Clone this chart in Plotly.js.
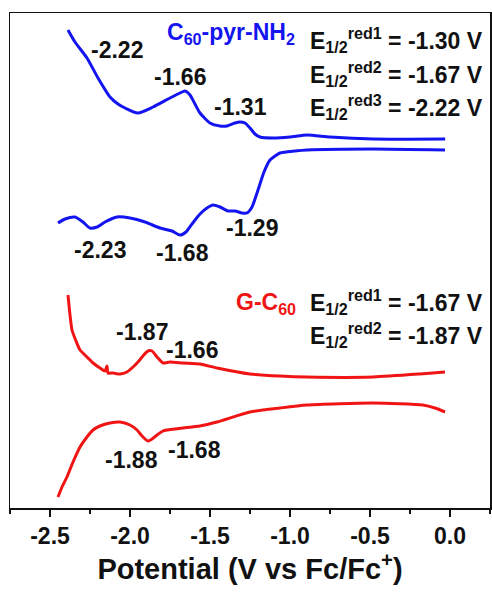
<!DOCTYPE html>
<html><head><meta charset="utf-8">
<script src="https://cdn.plot.ly/plotly-3.0.1.min.js"></script>
<style>html,body{margin:0;padding:0;background:#fff}#chart{width:492px;height:592px}</style>
</head><body><div id="chart"></div>
<script>
// C60-pyr-NH2 forward (upper) scan
const bluePotA = [-2.3875,-2.344,-2.269,-2.2,-2.125,-2.075,-2.031,-1.95,-1.856,-1.75,-1.6875,-1.656,-1.625,-1.594,-1.5625,-1.5,-1.4375,-1.394,-1.344,-1.3125,-1.281,-1.25,-1.219,-1.1875,-1.106,-1.0,-0.894,-0.75,-0.48,-0.03];
const blueCurA = [478,466,450,430,411,404,400,395,401,410,415,417,413,404,395,385,382,382,385,386,385,380,374,371,370,371,373,371,369,369];
// C60-pyr-NH2 reverse (lower) scan
const bluePotB = [-2.45,-2.406,-2.344,-2.294,-2.25,-2.206,-2.156,-2.081,-2.0,-1.906,-1.8125,-1.7375,-1.6875,-1.65,-1.6125,-1.5625,-1.519,-1.481,-1.4375,-1.3875,-1.344,-1.3,-1.269,-1.2375,-1.2,-1.1625,-1.125,-1.0625,-0.969,-0.894,-0.481,-0.031];
const blueCurB = [285,289,291,286,280,281,286,291,290,286,280,277,273,276,284,294,300,303,301,297,297,295,295,301,318,336,348,355,357,358,359,358];
// G-C60 upper scan
const redPotA = [-2.3875,-2.375,-2.3625,-2.3375,-2.3125,-2.269,-2.231,-2.1875,-2.156,-2.144,-2.1375,-2.106,-2.0625,-2.019,-1.981,-1.95,-1.919,-1.8875,-1.8625,-1.831,-1.794,-1.75,-1.669,-1.5625,-1.456,-1.25,-1.0625,-0.894,-0.481,-0.1875,-0.031];
const redCurA = [213,193,178,167,158,151,145,140,137,142,135,135,134,136,141,146,152,157,157,151,145,146,145,144,140,134,132,131,131,134,136];
// G-C60 lower scan
const redPotB = [-2.45,-2.425,-2.394,-2.356,-2.3125,-2.269,-2.231,-2.1875,-2.125,-2.0625,-2.0,-1.956,-1.925,-1.8875,-1.8625,-1.831,-1.794,-1.769,-1.719,-1.669,-1.5625,-1.456,-1.25,-1.0625,-0.894,-0.481,-0.169,-0.094,-0.031];
const redCurB = [11,21,31,46,61,71,78,82,85,86,83,78,72,67,69,73,77,78,79,80,82,86,96,100,103,105,103,100,96];

const tickVals = [-2.5,-2.0,-1.5,-1.0,-0.5,0.0];
const tickText = ['-2.5','-2.0','-1.5','-1.0','-0.5','0.0'];

const peakLabelsBlue = ['-2.22','-1.66','-1.31','-2.23','-1.68','-1.29'];
const peakXBlue = [-2.08,-1.69,-1.31,-2.19,-1.67,-1.24];
const peakYBlue = [458,431,401,258,255,280];
const peakLabelsRed = ['-1.87','-1.66','-1.88','-1.68'];
const peakXRed = [-1.925,-1.61,-1.99,-1.60];
const peakYRed = [176,158,48,58];

const blueName = 'C<sub>60</sub>-pyr-NH<sub>2</sub>';
const redName = 'G-C<sub>60</sub>';
const blueE = ['E<sub>1/2</sub><sup>red1</sup> = -1.30 V','E<sub>1/2</sub><sup>red2</sup> = -1.67 V','E<sub>1/2</sub><sup>red3</sup> = -2.22 V'];
const redE = ['E<sub>1/2</sub><sup>red1</sup> = -1.67 V','E<sub>1/2</sub><sup>red2</sup> = -1.87 V'];

const BLUE = '#1414f0', RED = '#f01414';
const FONT = 'Liberation Sans, Arial, sans-serif';

function line(x,y,c){return {x:x,y:y,type:'scatter',mode:'lines',line:{color:c,width:3,shape:'spline',smoothing:0.6},hoverinfo:'skip',showlegend:false};}
const data = [line(bluePotA,blueCurA,BLUE),line(bluePotB,blueCurB,BLUE),line(redPotA,redCurA,RED),line(redPotB,redCurB,RED)];

const ann = [];
function lab(t,x,y,opts){ann.push(Object.assign({text:t,x:x,y:y,xref:'x',yref:'y',showarrow:false,font:{family:FONT,size:23,color:'#111',weight:700}},opts||{}));}
peakLabelsBlue.forEach((t,i)=>lab(t,peakXBlue[i],peakYBlue[i]));
peakLabelsRed.forEach((t,i)=>lab(t,peakXRed[i],peakYRed[i]));
lab(blueName,-0.955,475,{xanchor:'right',font:{family:FONT,size:23,color:BLUE,weight:700}});
lab(redName,-0.95,205,{xanchor:'right',font:{family:FONT,size:23,color:RED,weight:700}});
const blueEY=[468,434,401], redEY=[206,173];
blueE.forEach((t,i)=>lab(t,-0.8875,blueEY[i],{xanchor:'left'}));
redE.forEach((t,i)=>lab(t,-0.8875,redEY[i],{xanchor:'left'}));

const layout = {
  width:492,height:592,margin:{l:10,r:2,t:13,b:84},
  paper_bgcolor:'#fff',plot_bgcolor:'#fff',
  xaxis:{range:[-2.75,0.25],tickvals:tickVals,ticktext:tickText,ticks:'outside',ticklen:7,tickwidth:1.5,tickcolor:'#111',
    showline:true,mirror:true,linecolor:'#111',linewidth:1.5,showgrid:false,zeroline:false,
    tickfont:{family:FONT,size:23,color:'#111',weight:700},
    minor:{tickvals:[-2.75,-2.25,-1.75,-1.25,-0.75,-0.25,0.25],ticks:'outside',ticklen:4,tickwidth:1.5,tickcolor:'#111',showgrid:false},
    title:{text:'Potential (V vs Fc/Fc<sup>+</sup>)',font:{family:FONT,size:29,color:'#111',weight:700},standoff:9}},
  yaxis:{range:[0,495],showticklabels:false,ticks:'',showline:true,mirror:true,linecolor:'#111',linewidth:1.5,showgrid:false,zeroline:false},
  annotations:ann
};
Plotly.newPlot('chart',data,layout,{displayModeBar:false,staticPlot:true});
</script></body></html>
